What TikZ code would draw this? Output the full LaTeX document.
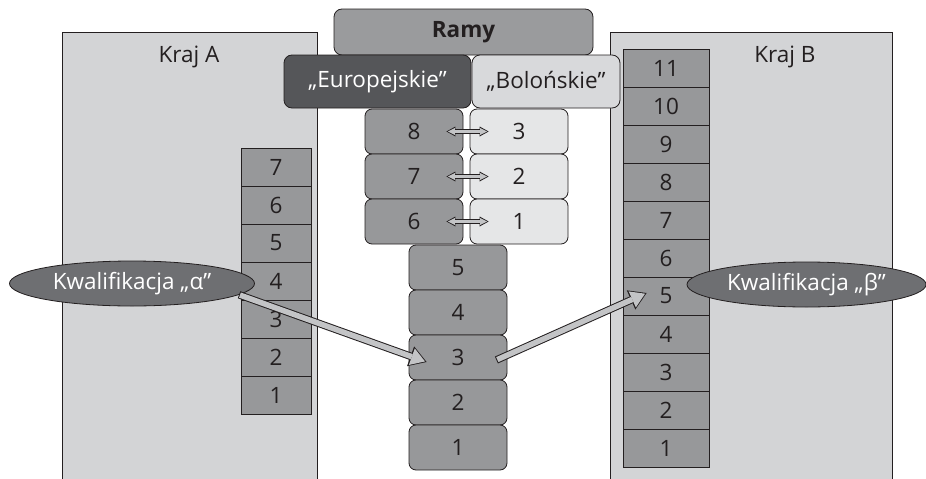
\documentclass[tikz,border=0pt]{standalone}
\usepackage{fontspec}
\setmainfont{Open Sans}
\usetikzlibrary{arrows.meta,shapes.geometric}
\definecolor{panel}{HTML}{D3D4D6}
\definecolor{cellgray}{HTML}{97989A}
\definecolor{ramygray}{HTML}{9A9B9D}
\definecolor{eurogray}{HTML}{555659}
\definecolor{bologray}{HTML}{D8D9DB}
\definecolor{bolocell}{HTML}{E5E6E7}
\definecolor{ovalgray}{HTML}{6E6F72}
\definecolor{ink}{HTML}{231F20}
\definecolor{shaftgray}{HTML}{C3C4C6}
\begin{document}
\begin{tikzpicture}[x=1pt,y=-1pt,
  every node/.style={font=\fontsize{22.5}{26}\selectfont, text=ink, inner sep=0pt},
  land/.style={draw=ink, fill=panel, line width=0.8pt},
  cellA/.style={draw=ink, fill=cellgray, line width=0.8pt, minimum width=70pt, minimum height=38pt},
  cellB/.style={draw=ink, fill=cellgray, line width=0.8pt, minimum width=86pt, minimum height=38pt},
  level/.style={draw=ink, fill=cellgray, line width=0.8pt, rounded corners=7pt, minimum width=98pt, minimum height=45pt},
  bolo/.style={level, fill=bolocell},
  head/.style={draw=ink, line width=0.8pt, rounded corners=8pt},
  oval/.style={ellipse, draw=ink, fill=ovalgray, line width=0.8pt, text=white, minimum width=#1, minimum height=45pt},
  pairout/.style={draw=ink, line width=4.4pt, shorten <=-17pt, shorten >=-19pt,
    {Triangle[length=9pt,width=10pt,line width=0pt]}-{Triangle[length=9pt,width=10pt,line width=0pt]}},
  pairin/.style={draw=shaftgray, line width=2.6pt, shorten <=-15.4pt, shorten >=-17.4pt,
    {Triangle[length=6.8pt,width=7pt,line width=0pt]}-{Triangle[length=6.8pt,width=7pt,line width=0pt]}},
  fatout/.style={draw=ink, line width=7.5pt, -{Triangle[length=17pt,width=21pt,line width=0pt]}},
  fatin/.style={draw=shaftgray, line width=5.5pt, shorten <=1pt, shorten >=1.7pt, -{Triangle[length=14pt,width=17.5pt,line width=0pt]}}]
\useasboundingbox (0,0) rectangle (926,479);
\draw[land] (62,32) rectangle (317,490);
\draw[land] (610,32) rectangle (892,490);
\node (krajA) at (189,57) {Kraj A};
\node (krajB) at (785,57) {Kraj B};
\node[head, fill=ramygray, minimum width=259pt, minimum height=46pt] (ramy) at (463.5,32) {\bfseries Ramy};
\node[head, fill=eurogray, text=white, minimum width=187pt, minimum height=53pt] (euro) at (377.5,81.5) {„Europejskie”};
\node[head, fill=bologray, minimum width=148pt, minimum height=53pt] (bolo) at (546,81.5) {„Bolońskie”};
\node[cellA] (a7) at (276,167) {7};
\node[cellA] (a6) at (276,205) {6};
\node[cellA] (a5) at (276,243) {5};
\node[cellA] (a4) at (276,281) {4};
\node[cellA] (a3) at (276,319) {3};
\node[cellA] (a2) at (276,357) {2};
\node[cellA] (a1) at (276,395) {1};
\node[cellB] (b11) at (666,68) {11};
\node[cellB] (b10) at (666,106) {10};
\node[cellB] (b9) at (666,144) {9};
\node[cellB] (b8) at (666,182) {8};
\node[cellB] (b7) at (666,220) {7};
\node[cellB] (b6) at (666,258) {6};
\node[cellB] (b5) at (666,296) {5};
\node[cellB] (b4) at (666,334) {4};
\node[cellB] (b3) at (666,372) {3};
\node[cellB] (b2) at (666,410) {2};
\node[cellB] (b1) at (666,448) {1};
\node[level] (e8) at (414,131.5) {8};
\node[level] (e7) at (414,176.5) {7};
\node[level] (e6) at (414,221.5) {6};
\node[bolo] (p3) at (519,131.5) {3};
\node[bolo] (p2) at (519,176.5) {2};
\node[bolo] (p1) at (519,221.5) {1};
\node[level] (c5) at (458,267.5) {5};
\node[level] (c4) at (458,312.5) {4};
\node[level] (c3) at (458,357.5) {3};
\node[level] (c2) at (458,402.5) {2};
\node[level] (c1) at (458,447.5) {1};
\draw[pairout] (e8) -- (p3);
\draw[pairin] (e8) -- (p3);
\draw[pairout] (e7) -- (p2);
\draw[pairin] (e7) -- (p2);
\draw[pairout] (e6) -- (p1);
\draw[pairin] (e6) -- (p1);
\node[oval=245pt] (ka) at (132,283.5) {\makebox[0pt]{Kwalifikacja „α”}};
\node[oval=239pt] (kb) at (806.5,284.5) {\makebox[0pt]{Kwalifikacja „β”}};
\draw[fatout] (ka.-6) -- ([xshift=18pt,yshift=-4.5pt]c3.west);
\draw[fatin] (ka.-6) -- ([xshift=18pt,yshift=-4.5pt]c3.west);
\draw[fatout] ([xshift=-11pt,yshift=-2.5pt]c3.east) -- ([xshift=24pt,yshift=3pt]b5.west);
\draw[fatin] ([xshift=-11pt,yshift=-2.5pt]c3.east) -- ([xshift=24pt,yshift=3pt]b5.west);
\end{tikzpicture}
\end{document}
